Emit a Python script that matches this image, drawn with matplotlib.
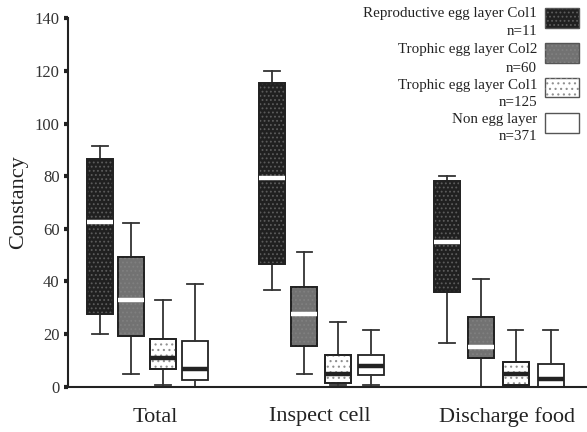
import matplotlib
matplotlib.use("Agg")
import matplotlib.pyplot as plt
from matplotlib.patches import Rectangle
import numpy as np

plt.rcParams['font.family'] = ['Liberation Serif', 'DejaVu Serif']
plt.rcParams['hatch.linewidth'] = 0.8

categories = ["Total", "Inspect cell", "Discharge food"]
series = ["Reproductive egg layer Col1", "Trophic egg layer Col2",
          "Trophic egg layer Col1", "Non egg layer"]
counts = ["n=11", "n=60", "n=125", "n=371"]

# stats per series per category: [whislo, q1, med, q3, whishi]
repro_col1 = [[19.9, 27.6, 62.5, 86.4, 91.5],
              [36.9, 46.7, 79.5, 115.4, 120.0],
              [16.7, 35.9, 54.9, 78.2, 80.2]]
trophic_col2 = [[4.7, 19.3, 33.0, 49.4, 62.1],
                [4.7, 15.5, 27.6, 38.0, 51.1],
                [0.0, 10.9, 15.0, 26.6, 40.8]]
trophic_col1 = [[0.8, 6.7, 10.9, 18.0, 33.0],
                [0.6, 1.5, 4.9, 11.9, 24.5],
                [0.0, 0.5, 4.8, 9.4, 21.7]]
non_layer = [[0.0, 2.5, 6.8, 17.5, 39.0],
             [0.6, 4.6, 7.9, 11.9, 21.7],
             [0.0, 0.0, 2.8, 8.5, 21.7]]
all_series = [repro_col1, trophic_col2, trophic_col1, non_layer]

yticks = [0, 20, 40, 60, 80, 100, 120, 140]

# styles
faces = ["#202020", "#727272", "#ffffff", "#ffffff"]
hatch_cols = ["#5c5c5c", "#808080", "#909090", None]
hatches = ["....", "....", "...", None]
median_cols = ["#ffffff", "#ffffff", "#222222", "#222222"]

fig = plt.figure(figsize=(5.87, 4.32), dpi=100)
ax = fig.add_axes([68/587, (432-386.7)/432, (587-68)/587, 368.4/432])

group_base = [100, 272, 447]
offsets = [0, 31, 63, 95]
width = 26

for si, ser in enumerate(all_series):
    stats = []
    pos = []
    for ci, v in enumerate(ser):
        stats.append(dict(whislo=v[0], q1=v[1], med=v[2], q3=v[3], whishi=v[4], fliers=[]))
        pos.append(group_base[ci] + offsets[si] * (1 + 0.045 * ci))
    bp = ax.bxp(stats, positions=pos, widths=width, patch_artist=True,
                showfliers=False, capwidths=width * 0.6,
                boxprops=dict(facecolor=faces[si], edgecolor="#222222", linewidth=1.3),
                whiskerprops=dict(color="#333333", linewidth=1.3),
                capprops=dict(color="#333333", linewidth=1.3),
                medianprops=dict(color=median_cols[si], linewidth=3.2, solid_capstyle="butt"),
                manage_ticks=False)
    for b, v, p in zip(bp['boxes'], ser, pos):
        b.set_zorder(2)
        if hatch_cols[si] is not None:
            r = Rectangle((p - width/2, v[1]), width, v[3] - v[1], facecolor="none",
                          edgecolor=hatch_cols[si], hatch=hatches[si], linewidth=0, zorder=2.5)
            ax.add_patch(r)
            r2 = Rectangle((p - width/2, v[1]), width, v[3] - v[1], facecolor="none",
                           edgecolor="#222222", linewidth=1.3, zorder=2.6)
            ax.add_patch(r2)
    for m in bp['medians']:
        m.set_zorder(3)

ax.set_xlim(68, 587)
ax.set_ylim(0, 140)
ax.set_yticks(yticks)
ax.set_yticklabels([str(t) for t in yticks], fontsize=12, color="#333333")
ax.tick_params(axis='y', direction='out', length=3, width=3, color="#222222", pad=3)
ax.set_xticks([])
ax.spines['top'].set_visible(False)
ax.spines['right'].set_visible(False)
ax.spines['left'].set_linewidth(1.5)
ax.spines['bottom'].set_linewidth(1.5)
ax.spines['left'].set_color("#222222")
ax.spines['bottom'].set_color("#222222")
ax.set_ylabel("Constancy", fontsize=16, color="#222222", labelpad=5)

label_x = [155, 320, 507]
for lx, c in zip(label_x, categories):
    fig.text(lx/587, 1 - 417/432, c, fontsize=16, ha="center", va="center", color="#222222")

# legend drawn manually
text_right = 537/587
line_y = [[14, 31.7], [50, 68.3], [85, 102.3], [120, 136.7]]
sw_y = [(8.3, 28.3), (42.7, 62.7), (77.7, 96.7), (113.3, 132.7)]
for si in range(4):
    fig.text(text_right, 1 - line_y[si][0]/432, series[si], fontsize=10.8,
             ha="right", va="center", color="#222222")
    fig.text(text_right, 1 - line_y[si][1]/432, counts[si], fontsize=10.8,
             ha="right", va="center", color="#222222")
    y0, y1 = sw_y[si]
    rect = Rectangle((545/587, 1 - y1/432), 34/587, (y1 - y0)/432,
                     transform=fig.transFigure, facecolor=faces[si],
                     edgecolor="#555555", linewidth=1.0)
    fig.add_artist(rect)
    if hatch_cols[si] is not None:
        rh = Rectangle((545/587, 1 - y1/432), 34/587, (y1 - y0)/432,
                       transform=fig.transFigure, facecolor="none",
                       edgecolor=hatch_cols[si], hatch=hatches[si], linewidth=0)
        fig.add_artist(rh)

fig.savefig("out.png", dpi=100)
